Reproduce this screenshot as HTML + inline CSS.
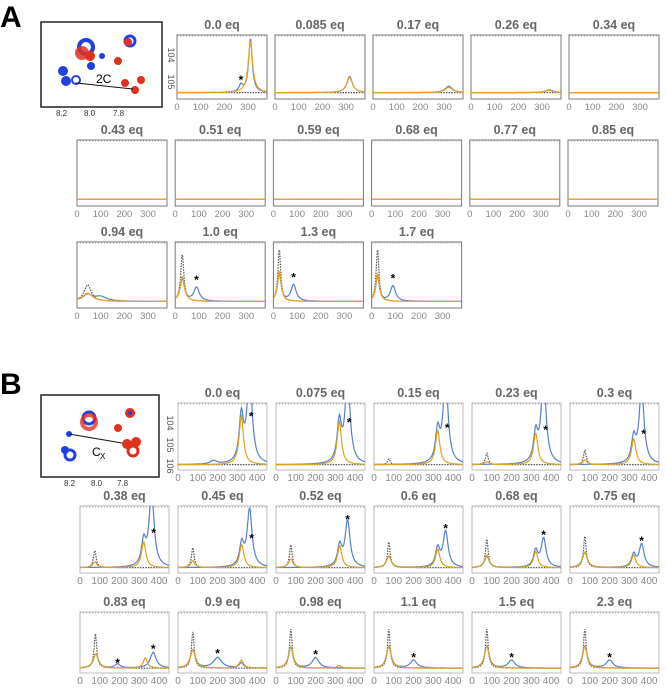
<!DOCTYPE html>
<html><head><meta charset="utf-8"><style>
body{margin:0;background:#fff}
svg{display:block;font-family:"Liberation Sans",sans-serif}
</style></head><body>
<svg id="fig" width="667" height="691" viewBox="0 0 667 691">
<text x="0" y="27" font-size="30" font-weight="bold">A</text>
<text x="0" y="394" font-size="30" font-weight="bold">B</text>
<g>
<rect x="41" y="22" width="121" height="85" fill="#fff" stroke="#222" stroke-width="1.5"/>
<circle cx="130" cy="41" r="5" fill="none" stroke="#2040e0" stroke-width="3"/>
<circle cx="128" cy="42" r="4" fill="#e03020"/>
<circle cx="86" cy="47" r="7" fill="none" stroke="#2040e0" stroke-width="4"/>
<circle cx="82" cy="53" r="7" fill="#e03020" opacity="0.85"/>
<circle cx="90" cy="56" r="5" fill="#e03020"/>
<circle cx="91" cy="66" r="4" fill="#2040e0"/>
<circle cx="118" cy="61" r="4" fill="#e03020"/>
<circle cx="102" cy="56" r="3" fill="#2040e0"/>
<circle cx="63" cy="71" r="5" fill="#2040e0"/>
<circle cx="66" cy="81" r="5" fill="#2040e0"/>
<circle cx="76" cy="80" r="4" fill="none" stroke="#2040e0" stroke-width="2"/>
<circle cx="125" cy="83" r="4" fill="#e03020"/>
<circle cx="141" cy="80" r="4" fill="#e03020"/>
<circle cx="135" cy="90" r="4" fill="#e03020"/>
<line x1="76" y1="83" x2="133" y2="89" stroke="#111" stroke-width="1"/>
<text x="96" y="83" font-size="12">2C</text>
<text x="56" y="116" font-size="8" fill="#333">8.2</text>
<text x="84" y="116" font-size="8" fill="#333">8.0</text>
<text x="113" y="116" font-size="8" fill="#333">7.8</text>
</g>
<g>
<rect x="41" y="395" width="118" height="82" fill="#fff" stroke="#222" stroke-width="1.5"/>
<circle cx="89" cy="418" r="6" fill="none" stroke="#2040e0" stroke-width="3"/>
<circle cx="89" cy="422" r="7" fill="none" stroke="#e03020" stroke-width="4" opacity="0.8"/>
<circle cx="130" cy="413" r="5" fill="#e03020"/>
<circle cx="130" cy="413" r="2" fill="#2040e0"/>
<circle cx="118" cy="428" r="4" fill="#e03020"/>
<circle cx="69" cy="434" r="3" fill="#2040e0"/>
<circle cx="65" cy="450" r="4" fill="#2040e0"/>
<circle cx="70" cy="455" r="5" fill="none" stroke="#2040e0" stroke-width="3"/>
<circle cx="127" cy="444" r="5" fill="#e03020"/>
<circle cx="136" cy="442" r="5" fill="#e03020"/>
<circle cx="133" cy="451" r="5" fill="none" stroke="#e03020" stroke-width="3"/>
<line x1="69" y1="434" x2="122" y2="443" stroke="#111" stroke-width="1"/>
<text x="92" y="456" font-size="12">C</text><text x="100" y="459" font-size="8">X</text>
<text x="64" y="486" font-size="8" fill="#333">8.2</text>
<text x="91" y="486" font-size="8" fill="#333">8.0</text>
<text x="117" y="486" font-size="8" fill="#333">7.8</text>
</g>
</svg>
<script>
// ---- Data (peaks as [center, height, halfwidth]) ----
const aTitles = ["0.0 eq","0.085 eq","0.17 eq","0.26 eq","0.34 eq","0.43 eq","0.51 eq","0.59 eq","0.68 eq","0.77 eq","0.85 eq","0.94 eq","1.0 eq","1.3 eq","1.7 eq"];
const aBlue = [[[270,0.13,10],[310,1.0,9]],[[315,0.3,14]],[[320,0.12,18]],[[330,0.05,20]],[],[],[],[],[],[],[],[[45,0.12,25],[100,0.08,30]],[[30,0.4,11],[90,0.25,14]],[[25,0.5,9],[85,0.3,13]],[[25,0.45,9],[90,0.28,13]]];
const aOrange = [[[310,0.95,11]],[[315,0.28,15]],[[320,0.1,18]],[[330,0.04,20]],[],[],[],[],[],[],[],[[45,0.15,25]],[[30,0.45,11]],[[25,0.55,9]],[[25,0.5,9]]];
const aDash = [[],[],[],[],[],[],[],[],[],[],[],[[45,0.3,18]],[[30,0.85,8]],[[25,0.95,7]],[[25,0.95,7]]];
const aStars = [[270,0.25],null,null,null,null,null,null,null,null,null,null,null,[90,0.4],[85,0.45],[90,0.43]];
const aTicks = [0,100,200,300];
const bTitles = ["0.0 eq","0.075 eq","0.15 eq","0.23 eq","0.3 eq","0.38 eq","0.45 eq","0.52 eq","0.6 eq","0.68 eq","0.75 eq","0.83 eq","0.9 eq","0.98 eq","1.1 eq","1.5 eq","2.3 eq"];
const bBlue = [[[320,0.8,13],[362,1.6,15],[180,0.06,20]],[[320,0.7,13],[362,1.5,15]],[[322,0.55,13],[362,1.5,15]],[[322,0.5,13],[362,1.5,15]],[[322,0.42,13],[362,1.3,15]],[[322,0.42,13],[362,1.3,15]],[[322,0.38,13],[362,1.0,15]],[[322,0.36,13],[362,0.8,15]],[[322,0.32,13],[362,0.62,15],[75,0.2,14]],[[322,0.28,13],[362,0.5,15],[75,0.2,14]],[[322,0.22,13],[362,0.4,15],[75,0.27,15]],[[80,0.27,15],[190,0.08,15],[370,0.3,18]],[[75,0.35,15],[200,0.2,25],[320,0.1,12]],[[75,0.4,14],[200,0.2,20]],[[75,0.42,14],[200,0.15,20]],[[75,0.42,14],[200,0.15,20]],[[75,0.42,14],[200,0.15,20]]];
const bOrange = [[[320,0.85,13]],[[320,0.75,13]],[[322,0.6,13]],[[322,0.55,13],[75,0.05,12]],[[322,0.45,13],[75,0.08,12]],[[322,0.45,13],[75,0.1,12]],[[322,0.4,13],[75,0.12,12]],[[322,0.38,13],[75,0.15,13]],[[322,0.32,13],[75,0.2,14]],[[322,0.28,13],[75,0.22,14]],[[322,0.22,13],[75,0.27,15]],[[80,0.27,15],[330,0.2,12]],[[75,0.35,15],[320,0.15,13]],[[75,0.4,14],[320,0.05,12]],[[75,0.42,14]],[[75,0.42,14]],[[75,0.42,14]]];
const bDash = [[],[],[[75,0.1,8]],[[75,0.2,8]],[[75,0.25,8]],[[75,0.3,8]],[[75,0.35,8]],[[75,0.4,8]],[[75,0.45,8]],[[75,0.5,8]],[[75,0.55,8]],[[78,0.66,8]],[[75,0.7,8]],[[75,0.75,8]],[[75,0.75,8]],[[75,0.75,8]],[[75,0.75,8]]];
const bStars = [[370,0.85],[370,0.75],[370,0.65],[372,0.62],[372,0.55],[372,0.62],[372,0.52],[362,0.85],[362,0.7],[362,0.58],[362,0.48],[[190,0.12],[370,0.38]],[200,0.3],[200,0.28],[200,0.22],[200,0.22],[200,0.22]];
const bTicks = [0,100,200,300,400];

const NS="http://www.w3.org/2000/svg";
const svg=document.getElementById('fig');
function mk(tag,attrs,parent){const e=document.createElementNS(NS,tag);for(const k in attrs)e.setAttribute(k,attrs[k]);(parent||svg).appendChild(e);return e;}
function curve(peaks,x){let s=0;for(const p of peaks){const d=(x-p[0])/p[2];s+=p[1]/(1+d*d);}return s;}
let clipId=0;
function panel(px,py,w,h,title,xmax,ticks,blue,orange,dash,stars,border,name,baseFrac,tickSize,orangeCol){
  const g=mk('g',{});
  
  
  const xs=v=>px+v/xmax*w;
  const base=py+h*baseFrac, top=py+h*0.06;
  const ys=v=>base-v*(base-top);
  const cid='c'+(clipId++);
  const cp=mk('clipPath',{id:cid},g);mk('rect',{x:px,y:py,width:w,height:h},cp);
  const t=mk('text',{x:px+w/2,y:py-6,'text-anchor':'middle','font-size':12.5,'font-weight':'bold',fill:'#666'},g);t.textContent=title;
  
  
  mk('rect',{x:px,y:py,width:w,height:h,fill:'#fff',stroke:border,'stroke-width':1},g);
  mk('line',{x1:px,y1:py+1,x2:px+w,y2:py+1,stroke:'#aaa','stroke-dasharray':'1 2'},g);
  const series=[[dash,'#555','1.5 1.2'],[blue,'#5580cc',null],[orange,orangeCol,null]];
  for(const [pk,col,da] of series){
    let d='';
    for(let i=0;i<=160;i++){const x=xmax*i/160;d+=(i?'L':'M')+xs(x).toFixed(1)+','+ys(curve(pk,x)).toFixed(1);}
    const p=mk('path',{d:d,fill:'none',stroke:col,'stroke-width':1.2,'clip-path':'url(#'+cid+')'},g);
    if(da)p.setAttribute('stroke-dasharray',da);
    
    
  }
  let st=stars; if(st&&!Array.isArray(st[0]))st=[st];
  if(st)for(const s of st){const e=mk('text',{x:xs(s[0]),y:ys(s[1])+5,'text-anchor':'middle','font-size':12,'font-weight':'bold'},g);e.textContent='*';
    
    }
  for(const tv of ticks){const e=mk('text',{x:xs(tv),y:py+h+11,'text-anchor':'middle','font-size':tickSize,fill:'#888'},g);e.textContent=tv;
    
    }
}
const aPos=[];
for(let i=0;i<5;i++)aPos.push([177+98*i,35,90,64]);
for(let i=0;i<6;i++)aPos.push([77+98.2*i,140,90,66]);
for(let i=0;i<4;i++)aPos.push([77+98.2*i,242,90,66]);
aTitles.forEach((t,i)=>{const p=aPos[i];panel(p[0],p[1],p[2],p[3],t,380,aTicks,aBlue[i],aOrange[i],aDash[i],aStars[i],'#777','panel-a-'+i,0.9,9.5,'#eda31e');});
const bPos=[];
for(let i=0;i<5;i++)bPos.push([178+98*i,403,89,67]);
for(let i=0;i<6;i++)bPos.push([80+98*i,506,89,67]);
for(let i=0;i<6;i++)bPos.push([80+98*i,612,89,61]);
bTitles.forEach((t,i)=>{const p=bPos[i];panel(p[0],p[1],p[2],p[3],t,450,bTicks,bBlue[i],bOrange[i],bDash[i],bStars[i],'#bbb','panel-b-'+i,0.92,10,'#e0a020');});
[['104',168,55],['105',168,82]].forEach(a=>{const e=mk('text',{x:a[1],y:a[2],'font-size':9,fill:'#555',transform:'rotate(90 '+a[1]+' '+a[2]+')','text-anchor':'middle'});e.textContent=a[0];
 
 });
[['104',167,423],['105',167,445],['106',167,466]].forEach(a=>{const e=mk('text',{x:a[1],y:a[2],'font-size':9,fill:'#555',transform:'rotate(90 '+a[1]+' '+a[2]+')','text-anchor':'middle'});e.textContent=a[0];
 
 });
</script>
</body></html>
